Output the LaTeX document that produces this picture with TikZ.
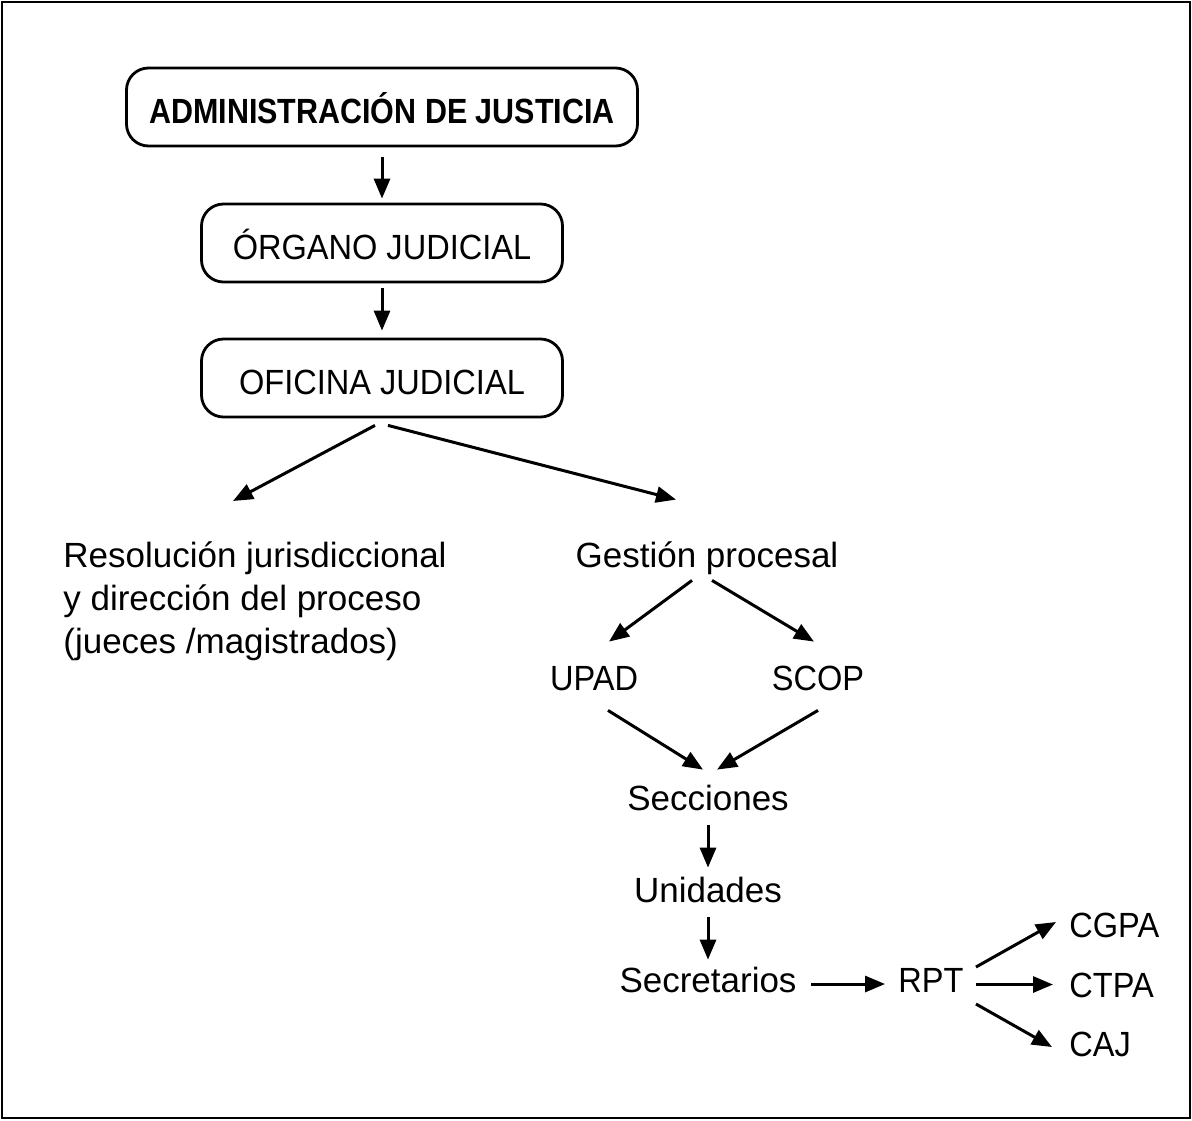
\documentclass[tikz,border=0pt]{standalone}
\usepackage{fontspec}
\setmainfont{Liberation Sans}
\newfontfamily\capsfont[FakeStretch=0.93]{Liberation Sans}
\newfontfamily\headfont[FakeStretch=0.87]{Liberation Sans}
\usetikzlibrary{positioning}
\usetikzlibrary{arrows.meta}

\begin{document}
\begin{tikzpicture}[x=0.5pt, y=-0.5pt,
    every node/.style={font=\fontsize{17.5}{21.5}\selectfont, inner sep=0pt},
    box/.style={draw, line width=1.4pt, rounded corners=11pt, minimum height=39pt, text height=16pt, text depth=0pt, font=\fontsize{17.5}{21.5}\capsfont},
    txt/.style={anchor=base, text height=12.5pt, text depth=0pt},
    acr/.style={txt, font=\fontsize{17.5}{21.5}\capsfont},
    arr/.style={-{Triangle[length=10pt, width=8pt]}, line width=1.5pt}]
    \useasboundingbox (0,0) rectangle (1192,1120);
    \draw[line width=1.4pt] (2,2) rectangle (1190,1118);

    \node[box, minimum width=255.5pt, font=\fontsize{17.5}{21.5}\headfont\bfseries] (admin) at (382,107) {ADMINISTRACIÓN DE JUSTICIA};
    \node[box, minimum width=180.5pt] (organo) at (382,243) {ÓRGANO JUDICIAL};
    \node[box, minimum width=180.5pt] (oficina) at (382,378) {OFICINA JUDICIAL};

    \node[anchor=north west, align=left] (resol) at (63,541) {Resolución jurisdiccional\\ y dirección del proceso\\ (jueces /magistrados)};
    \node[txt] (gestion) at (707,567) {Gestión procesal};
    \node[acr] (upad) at (594,690) {UPAD};
    \node[acr] (scop) at (818,690) {SCOP};
    \node[txt] (secciones) at (708,810) {Secciones};
    \node[txt] (unidades) at (708,902) {Unidades};
    \node[txt] (secretarios) at (708,992) {Secretarios};
    \node[acr] (rpt) at (931,992) {RPT};
    \node[acr, anchor=base west] (cgpa) at (1069,937) {CGPA};
    \node[acr, anchor=base west] (ctpa) at (1069,997) {CTPA};
    \node[acr, anchor=base west] (caj) at (1069,1056) {CAJ};

    \draw[arr, shorten <=5pt, shorten >=2pt] (admin.south) -- (organo.north);
    \draw[arr, shorten <=2.5pt, shorten >=3.5pt] (organo.south) -- (oficina.north);
    \draw[arr] ([xshift=-3.5pt, yshift=-3.5pt]oficina.south) -- ([xshift=85pt, yshift=20pt]resol.north west);
    \draw[arr] ([xshift=3pt, yshift=-3.5pt]oficina.south) -- ([xshift=-15.5pt, yshift=21pt]gestion.north);
    \draw[arr] ([xshift=-7.5pt, yshift=-6.5pt]gestion.south) -- ([xshift=7.5pt, yshift=11.5pt]upad.north);
    \draw[arr] ([xshift=2.5pt, yshift=-6.5pt]gestion.south) -- ([xshift=-2pt, yshift=11.5pt]scop.north);
    \draw[arr] ([xshift=7pt, yshift=-10pt]upad.south) -- ([xshift=-2.5pt, yshift=7.5pt]secciones.north);
    \draw[arr] ([yshift=-10pt]scop.south) -- ([xshift=4.5pt, yshift=7.5pt]secciones.north);
    \draw[arr, shorten <=7.5pt, shorten >=4.5pt] (secciones.south) -- (unidades.north);
    \draw[arr, shorten <=7.5pt, shorten >=3.5pt] (unidades.south) -- (secretarios.north);
    \draw[arr, shorten <=7pt, shorten >=6.5pt] ([yshift=-2.25pt]secretarios.east) -- ([yshift=-2.25pt]rpt.west);
    \draw[arr] ([xshift=6pt, yshift=6.25pt]rpt.east) -- ([xshift=-6.5pt, yshift=1.25pt]cgpa.west);
    \draw[arr, shorten <=6pt, shorten >=8pt] ([yshift=-2.5pt]rpt.east) -- (ctpa.west);
    \draw[arr] ([xshift=6pt, yshift=-12.25pt]rpt.east) -- ([xshift=-8.5pt, yshift=-1.75pt]caj.west);
\end{tikzpicture}
\end{document}
